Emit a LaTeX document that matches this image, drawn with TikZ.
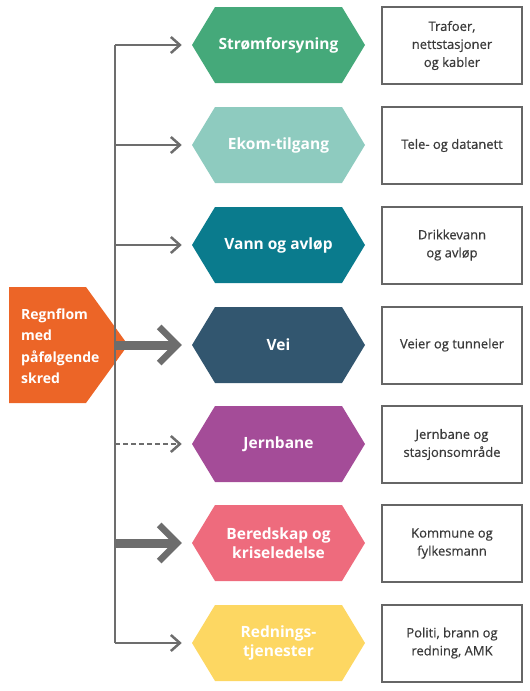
\documentclass[tikz,border=0pt]{standalone}
\usepackage{fontspec}
\setmainfont{Open Sans}
\newfontfamily\boxfont[FakeBold=0.5]{Open Sans}
\usetikzlibrary{arrows.meta}
\definecolor{cline}{HTML}{6D6D6D}
\definecolor{cbox}{HTML}{666666}
\definecolor{ctext}{HTML}{3A3A3A}
\definecolor{corange}{HTML}{EC6527}
\definecolor{cgreen}{HTML}{45A97A}
\definecolor{cekom}{HTML}{8ECBBF}
\definecolor{cvann}{HTML}{0A7B8D}
\definecolor{cvei}{HTML}{32566F}
\definecolor{cjern}{HTML}{A44C98}
\definecolor{cbered}{HTML}{EE6B7D}
\definecolor{credn}{HTML}{FDD762}
\tikzset{
  hexbox/.style={shape=signal, signal to=west and east, signal pointer angle=117.6,
    minimum width=173pt, minimum height=76pt, inner sep=0pt, draw=none,
    text=white, font=\fontsize{15.5}{19}\selectfont\bfseries, align=center},
  infobox/.style={rectangle, draw=cbox, line width=2pt, minimum width=140pt,
    minimum height=77pt, inner sep=0pt, text=ctext,
    font=\boxfont\fontsize{13}{18}\selectfont, align=center},
  srctext/.style={text=white, font=\fontsize{14}{21.5}\selectfont\bfseries, align=left, inner sep=0pt},
  trunk/.style={draw=cline, line width=2pt},
  thinarrow/.style={draw=cline, line width=2pt, shorten >=10pt,
    -{Straight Barb[length=9pt,width=16pt,line width=2.5pt]}},
  dasharrow/.style={thinarrow, line width=1.2pt, dash pattern=on 5pt off 3pt},
  thickarrow/.style={draw=cline, line width=9pt, shorten >=10pt,
    -{Straight Barb[length=18pt,width=36pt,line width=6.5pt]}}
}
\usetikzlibrary{shapes.symbols}
\begin{document}
\begin{tikzpicture}[x=1pt,y=-1pt]
\useasboundingbox (0,0) rectangle (530,691);
% source shape
\fill[corange] (9,287) -- (86,287) -- (128,345) -- (86,403) -- (9,403) -- cycle;
\coordinate (src) at (128,345);
% hexagons
\node[hexbox, fill=cgreen] (h1) at (278.5,45) {Strømforsyning};
\node[hexbox, fill=cekom] (h2) at (278.5,145) {Ekom-tilgang};
\node[hexbox, fill=cvann] (h3) at (278.5,245) {Vann og avløp};
\node[hexbox, fill=cvei] (h4) at (278.5,345) {Vei};
\node[hexbox, fill=cjern] (h5) at (278.5,444) {Jernbane};
\node[hexbox, fill=cbered] (h6) at (278.5,543) {Beredskap og\\kriseledelse};
\node[hexbox, fill=credn] (h7) at (278.5,643) {Rednings-\\tjenester};
% boxes
\node[infobox] (b1) at (452,45.5) {Trafoer,\\nettstasjoner\\og kabler};
\node[infobox] (b2) at (452,145.5) {Tele- og datanett};
\node[infobox] (b3) at (452,245) {Drikkevann\\og avløp};
\node[infobox] (b4) at (452,345) {Veier og tunneler};
\node[infobox] (b5) at (452,444.5) {Jernbane og\\stasjonsområde};
\node[infobox] (b6) at (452,543.5) {Kommune og\\fylkesmann};
\node[infobox] (b7) at (452,643) {Politi, brann og\\redning, AMK};
% trunk
\coordinate (t1) at (115,45);
\coordinate (t2) at (115,145);
\coordinate (t3) at (115,245);
\coordinate (t4) at (115,345);
\coordinate (t5) at (115,444);
\coordinate (t6) at (115,543);
\coordinate (t7) at (115,643);
\draw[trunk] (t1) -- (t7);
\draw[thinarrow] (t1) -- (h1.west);
\draw[thinarrow] (t2) -- (h2.west);
\draw[thinarrow] (t3) -- (h3.west);
\draw[thickarrow] (t4) -- (h4.west);
\draw[dasharrow] (t5) -- (h5.west);
\draw[thickarrow] (t6) -- (h6.west);
\draw[thinarrow] (t7) -- (h7.west);
\node[srctext, anchor=west] (srclabel) at (21,346) {Regnflom\\med\\påfølgende\\skred};
\end{tikzpicture}
\end{document}
